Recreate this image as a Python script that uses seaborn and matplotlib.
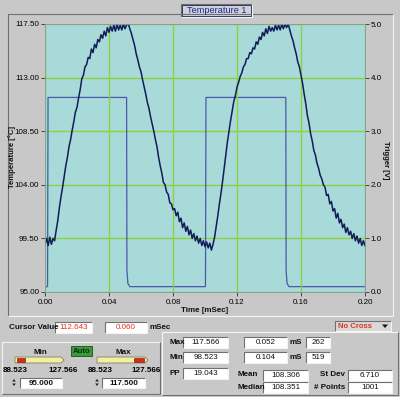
import numpy as np
import pandas as pd
import seaborn as sns
import matplotlib.pyplot as plt
from matplotlib.patches import Rectangle, Polygon

# temperature trace, one reading every 0.001 mSec from 0.000 to 0.200
temp_c = [
    99.0, 99.5, 98.9, 99.6, 99.0, 99.5, 99.3, 100.2, 101.0, 102.1,
    103.0, 103.8, 104.7, 105.6, 106.3, 107.2, 107.8, 108.6, 109.3, 110.1,
    110.5, 111.3, 112.0, 112.9, 113.2, 113.9, 114.1, 114.7, 114.6, 115.4,
    115.1, 115.8, 115.5, 116.2, 116.0, 116.6, 116.3, 116.9, 116.5, 117.2,
    116.8, 117.3, 116.9, 117.4, 116.9, 117.5, 117.0, 117.4, 117.0, 117.5,
    117.1, 117.4, 117.57, 117.1, 116.7, 116.2, 115.7, 115.0, 114.5, 113.9,
    113.5, 112.8, 112.2, 111.6, 110.9, 110.4, 109.7, 109.1, 108.5, 107.8,
    107.2, 106.3, 105.6, 105.0, 104.2, 104.0, 103.4, 103.2, 102.5, 102.4,
    101.9, 102.0, 101.4, 101.7, 100.9, 101.2, 100.4, 100.8, 100.1, 100.5,
    99.8, 100.2, 99.5, 99.9, 99.3, 99.7, 99.1, 99.5, 98.9, 99.3,
    98.8, 99.2, 98.7, 99.1, 98.52, 99.0, 99.6, 100.5, 101.4, 102.4,
    103.3, 104.3, 105.4, 106.5, 107.6, 108.5, 109.4, 110.2, 111.0, 111.5,
    112.2, 112.6, 113.1, 113.4, 113.9, 114.1, 114.6, 114.6, 115.1, 115.0,
    115.5, 115.4, 116.0, 115.8, 116.4, 116.2, 116.8, 116.5, 117.1, 116.7,
    117.3, 116.9, 117.2, 116.9, 117.4, 117.0, 117.4, 117.0, 117.5, 117.1,
    117.5, 117.2, 117.5, 117.0, 116.5, 116.1, 115.5, 115.0, 114.3, 113.9,
    113.2, 112.5, 111.6, 110.8, 109.8, 109.2, 108.3, 107.7, 106.9, 106.5,
    105.8, 105.4, 104.8, 104.5, 104.0, 103.8, 103.1, 103.2, 102.4, 102.6,
    101.8, 102.0, 101.2, 101.6, 100.8, 101.1, 100.4, 100.7, 100.0, 100.4,
    99.8, 100.1, 99.5, 99.9, 99.3, 99.7, 99.1, 99.5, 98.9, 99.3,
    98.9,
]
time_ms = np.round(np.arange(len(temp_c)) * 0.001, 3)

# trigger square wave (V)
trig_t = [0.000, 0.0016, 0.0019, 0.0510, 0.0512, 0.0518, 0.0530,
          0.1003, 0.1006, 0.1505, 0.1507, 0.1513, 0.1525, 0.2000]
trig_v = [0.10, 0.10, 3.63, 3.63, 0.40, 0.16, 0.10,
          0.10, 3.63, 3.63, 0.40, 0.16, 0.10, 0.10]

x_ticks = [0.00, 0.04, 0.08, 0.12, 0.16, 0.20]
y_ticks = [95.00, 99.50, 104.00, 108.50, 113.00, 117.50]
v_ticks = [0.0, 1.0, 2.0, 3.0, 4.0, 5.0]

GRAY = '#c8c8c8'
CYAN = '#a8dada'
GREEN = '#8ed040'
RED = '#e03020'

plt.rcParams['font.family'] = ['Liberation Sans', 'DejaVu Sans']
fig = plt.figure(figsize=(4.0, 3.97), dpi=100, facecolor=GRAY)

# pixel canvas for the panel widgets
bg = fig.add_axes([0, 0, 1, 1])
bg.set_xlim(0, 400)
bg.set_ylim(397, 0)
bg.axis('off')
bg.set_zorder(0)


def bevel(x0, y0, x1, y1, fill=None, sunken=True, lw=0.8):
    if fill is not None:
        bg.add_patch(Rectangle((x0, y0), x1 - x0, y1 - y0, facecolor=fill, edgecolor='none'))
    dark, light = '#707070', '#f4f4f4'
    tl, br = (dark, light) if sunken else (light, dark)
    bg.plot([x0, x0, x1], [y1, y0, y0], color=tl, lw=lw, solid_capstyle='butt')
    bg.plot([x0, x1, x1], [y1, y1, y0], color=br, lw=lw, solid_capstyle='butt')


def field(x0, y0, x1, y1, txt, color='#101010', bold=False):
    bevel(x0, y0, x1, y1, fill='#ffffff')
    bg.text((x0 + x1) / 2, (y0 + y1) / 2 + 0.3, txt, ha='center', va='center',
            fontsize=5.8, color=color, fontweight='bold' if bold else 'normal')


def label(x, y, txt, ha='left', size=5.8, color='#101010'):
    bg.text(x, y, txt, ha=ha, va='center', fontsize=size, fontweight='bold', color=color)


# main chart frame and title box
bevel(8, 14, 393, 316, sunken=True)
bevel(181, 4, 252, 17, fill='#d0d0dc')
bg.add_patch(Rectangle((182, 5), 69, 11, facecolor='none', edgecolor='#303060', lw=0.7))
bg.text(216.5, 10.8, 'Temperature 1', ha='center', va='center', fontsize=6.6, color='#1c2c8c')

# chart: trigger on the lower (cyan) axes, temperature on top
ax = fig.add_axes([45 / 400, 1 - 292 / 397, 320 / 400, 268 / 397])
ax2 = ax.twinx()
ax2.set_zorder(2)
ax.set_zorder(3)
ax.patch.set_visible(False)
ax2.patch.set_facecolor(CYAN)
ax2.patch.set_visible(True)

df_trig = pd.DataFrame({'t': trig_t, 'v': trig_v})
sns.lineplot(data=df_trig, x='t', y='v', ax=ax2, color='#4a5aa8', linewidth=0.9,
             estimator=None, sort=False)
df_temp = pd.DataFrame({'t': time_ms, 'T': temp_c})
sns.lineplot(data=df_temp, x='t', y='T', ax=ax, color='#121c58', linewidth=1.1,
             estimator=None, sort=False)

ax.set_xlim(0, 0.2)
ax.set_ylim(95, 117.5)
ax2.set_ylim(0, 5)
ax.set_xticks(x_ticks)
ax.set_xticklabels([f'{v:.2f}' for v in x_ticks])
ax.set_yticks(y_ticks)
ax.set_yticklabels([f'{v:.2f}' for v in y_ticks])
ax2.set_yticks(v_ticks)
ax2.set_yticklabels([f'{v:.1f}' for v in v_ticks])
ax2.yaxis.grid(True, color=GREEN, linewidth=1.0)
ax.xaxis.grid(True, color=GREEN, linewidth=1.0)
ax.set_axisbelow(True)
ax2.set_axisbelow(True)
ax.set_xlabel('')
ax.set_ylabel('')
ax2.set_ylabel('')
for a in (ax, ax2):
    a.tick_params(axis='both', labelsize=5.8, length=3, width=0.6, pad=1.2, color='#303030')
    for s in a.spines.values():
        s.set_color('#8a9c9c')
        s.set_linewidth(0.6)
ax.tick_params(axis='x', pad=2)

label(12, 157, 'Temperature [°C]', ha='center', size=5.6)
bg.texts[-1].set_rotation(90)
label(386, 160, 'Trigger [V]', ha='center', size=5.6)
bg.texts[-1].set_rotation(270)
label(205, 311, 'Time [mSec]', ha='center', size=5.8)

# No Cross drop-down
bevel(335, 321, 391, 331, fill='#d8d8d8')
bg.text(338, 326.3, 'No Cross', ha='left', va='center', fontsize=5.6, fontweight='bold', color=RED)
bg.add_patch(Polygon([[382, 324.5], [388, 324.5], [385, 328]], closed=True, facecolor='#101010'))

# cursor row
label(9, 327.5, 'Cursor Value')
field(55, 322, 92, 333, '112.643', color=RED)
field(105, 322, 147, 333, '0.060', color=RED)
label(150, 327.5, 'mSec')

# scale panel (min / max)
bevel(2, 342, 160, 394, sunken=False)
label(40, 352, 'Min', ha='center')
label(123, 352, 'Max', ha='center')
bg.add_patch(Rectangle((71, 346), 21, 10, facecolor='#3a9a3a', edgecolor='#1c4c1c', lw=0.6))
bg.text(81.5, 351.3, 'Auto', ha='center', va='center', fontsize=5.6, fontweight='bold', color='#0c2c0c')
bg.add_patch(Polygon([[15, 357], [61, 357], [64, 360], [61, 363], [15, 363]], closed=True,
                     facecolor='#f2f0a0', edgecolor='#808060', lw=0.6))
bg.add_patch(Rectangle((16.5, 358), 8, 4, facecolor='#e02818', edgecolor='#601010', lw=0.4))
bg.add_patch(Polygon([[97, 357], [145, 357], [148, 360], [145, 363], [97, 363]], closed=True,
                     facecolor='#f2f0a0', edgecolor='#808060', lw=0.6))
bg.add_patch(Rectangle((134, 358), 10, 4, facecolor='#e02818', edgecolor='#601010', lw=0.4))
bg.text(15, 371, '88.523', ha='center', va='center', fontsize=5.9, fontweight='bold')
bg.text(63, 371, '127.566', ha='center', va='center', fontsize=5.9, fontweight='bold')
bg.text(100, 371, '88.523', ha='center', va='center', fontsize=5.9, fontweight='bold')
bg.text(146, 371, '127.566', ha='center', va='center', fontsize=5.9, fontweight='bold')
for sx in (14, 97):
    bg.add_patch(Polygon([[sx - 1.8, 381.5], [sx + 1.8, 381.5], [sx, 379]], closed=True, facecolor='#202020'))
    bg.add_patch(Polygon([[sx - 1.8, 383.5], [sx + 1.8, 383.5], [sx, 386]], closed=True, facecolor='#202020'))
field(20, 378, 62, 387.5, '95.000', bold=True)
field(102, 378, 145, 387.5, '117.500', bold=True)

# statistics panel
bevel(162, 332, 398, 395, sunken=False)
label(169, 342.5, 'Max')
label(169, 357.5, 'Min')
label(169, 373.5, 'PP')
field(183, 337, 228, 348, '117.566')
field(183, 352, 228, 362.5, '98.523')
field(183, 368, 228, 379, '19.043')
field(244, 337, 287, 347.5, '0.052')
field(244, 352, 287, 362.5, '0.104')
label(290, 342.5, 'mS')
label(290, 357.5, 'mS')
field(306, 337, 330, 347.5, '262')
field(306, 352, 330, 362.5, '519')
label(237, 375, 'Mean')
label(237, 387.5, 'Median')
field(263, 369.5, 308, 380.5, '108.306')
field(263, 382, 308, 392.5, '108.351')
label(345, 375, 'St Dev', ha='right')
label(345, 387.5, '# Points', ha='right')
field(348, 369.5, 392, 380.5, '6.710')
field(348, 382, 392, 392.5, '1001')

fig.savefig('out.png', dpi=100, facecolor=GRAY)
